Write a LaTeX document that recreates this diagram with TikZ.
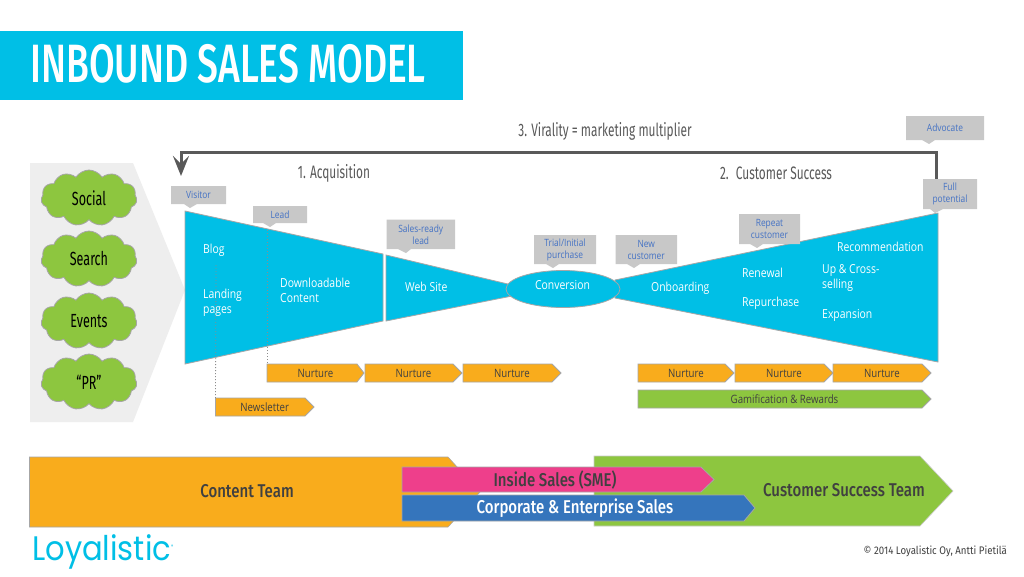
\documentclass[tikz,border=0pt]{standalone}
\usepackage{fontspec}
\usetikzlibrary{shapes.symbols,shapes.geometric,arrows.meta}
\setmainfont{Fira Sans}
\newfontfamily\cond[FakeStretch=0.66]{Fira Sans}
\newfontfamily\condb[FakeStretch=0.81]{Fira Sans Medium}
\newfontfamily\titlef[FakeStretch=0.69]{Fira Sans Medium}
\newfontfamily\body[FakeStretch=0.84]{Open Sans}
\newfontfamily\copyf[FakeStretch=0.88]{Fira Sans}
\newfontfamily\logof[FakeStretch=0.9]{Poppins}
\definecolor{cyanb}{HTML}{00BFE6}
\definecolor{orangeb}{HTML}{F9AC1C}
\definecolor{greenb}{HTML}{8DC63F}
\definecolor{pinkb}{HTML}{EE3F8B}
\definecolor{blueb}{HTML}{3575BC}
\definecolor{greyb}{HTML}{C8C8C8}
\definecolor{bluet}{HTML}{4472C4}
\definecolor{edge}{HTML}{A6A6A6}
\definecolor{darkt}{HTML}{404040}
\definecolor{headt}{HTML}{595959}
\definecolor{panel}{HTML}{EEEEEE}
\tikzset{
  x=1pt,y=-1pt,
  funnel/.style={fill=cyanb,draw=edge,line width=.8pt},
  inner/.style={text=white,align=left,anchor=west,font=\body\fontsize{12.4}{15}\selectfont,inner sep=0pt},
  tag/.style={text=bluet,align=center,font=\body\fontsize{10}{12}\selectfont,inner sep=0pt},
  bubble/.style={cloud,cloud puffs=11,cloud puff arc=115,aspect=1.7,fill=greenb,draw=edge,line width=.8pt,minimum width=96pt,minimum height=56pt,inner sep=0pt,font=\cond\fontsize{19}{20}\selectfont},
  heading/.style={text=headt,inner sep=0pt,font=\cond\fontsize{18}{20}\selectfont},
  small/.style={text=darkt,font=\body\fontsize{11.5}{13}\selectfont,inner sep=0pt},
  team/.style={text=darkt,inner sep=0pt,font=\condb\fontsize{18.5}{20}\selectfont},
  loopline/.style={draw=headt,line width=3pt,-{Stealth[length=20pt,width=16pt,inset=8pt]}},
  dots/.style={draw=black!45,line width=.8pt,dash pattern=on 1pt off 2pt},
}
% name, x0, y0, x1 (body end), y1, tip x, fill, text style, text
\newcommand{\arrowbox}[9]{%
  \draw[fill=#7,draw=edge,line width=.8pt] (#2,#3) -- (#4,#3) -- (#6,{(#3+#5)/2}) -- (#4,#5) -- (#2,#5) -- cycle;
  \coordinate (#1-w) at (#2,#3);
  \node[#8] (#1) at ({(#2+#6)/2},{(#3+#5)/2}) {#9};}
% name, x0, y0, x1, y1, tail left, tail tip x, text
\newcommand{\callout}[8]{%
  \fill[greyb] (#2,#3) -- (#4,#3) -- (#4,#5) -- ({#6+13},#5) -- (#7,{#5+4}) -- (#6,#5) -- (#2,#5) -- cycle;
  \node[tag] (#1) at ({(#2+#4)/2},{(#3+#5)/2}) {#8};}
\begin{document}
\begin{tikzpicture}
\useasboundingbox (0,0) rectangle (1024,576);
\fill[white] (0,0) rectangle (1024,576);
% title
\fill[cyanb] (0,31) rectangle (463,100);
\node[text=white,anchor=west,inner sep=0pt,font=\titlef\fontsize{54}{58}\selectfont] (title) at (30,64) {INBOUND SALES MODEL};
% source panel
\fill[panel] (30,163) -- (133,163) -- (185,290) -- (133,422) -- (30,422) -- cycle;
\node[bubble] (social) at (89,198) {Social};
\node[bubble] (search) at (89,259) {Search};
\node[bubble] (events) at (89,321) {Events};
\node[bubble] (pr) at (89,382) {“PR”};
% loop
\coordinate (loopa) at (936,180);
\coordinate (loopb) at (181,176);
\draw[loopline] (loopa) |- (181,152) -- (loopb);
\node[heading] (virality) at (605,131) {3. Virality = marketing multiplier};
\node[heading] (acq) at (334,173) {1. Acquisition};
\node[heading] (cs) at (776,173) {2.\, Customer Success};
% funnels
\draw[funnel] (185,211) -- (383,254) -- (383,321) -- (185,364) -- cycle;
\draw[funnel] (386,255) -- (512,285) -- (512,296) -- (386,321) -- cycle;
\draw[funnel] (615,280) -- (938,213) -- (938,362) -- (615,298) -- cycle;
\node[ellipse,funnel,minimum width=114pt,minimum height=37pt,inner sep=0pt] (conv) at (563,289) {};
\node[text=white,inner sep=0pt,font=\body\fontsize{12.4}{15}\selectfont] (convt) at (562.5,285.5) {Conversion};
% arrows
\arrowbox{nl}{215.5}{398}{305}{416}{314}{orangeb}{small}{Newsletter}
\arrowbox{n1}{267}{364}{357}{382}{364}{orangeb}{small}{Nurture}
\arrowbox{n2}{365}{364}{453}{382}{462}{orangeb}{small}{Nurture}
\arrowbox{n3}{463}{364}{552}{382}{561}{orangeb}{small}{Nurture}
\arrowbox{n4}{638}{364}{725}{382}{734}{orangeb}{small}{Nurture}
\arrowbox{n5}{735}{364}{824}{382}{833}{orangeb}{small}{Nurture}
\arrowbox{n6}{833}{364}{922}{382}{931}{orangeb}{small}{Nurture}
\arrowbox{gam}{638}{390}{922}{408}{931}{greenb}{small}{Gamification \& Rewards}
% dotted
\coordinate (dota) at (216,265);
\coordinate (dotb) at (267,230);
\draw[dots] (dota) -- (nl-w);
\draw[dots] (dotb) -- (n1-w);
% funnel text
\node[inner] (blog) at (203,250) {Blog};
\node[inner] (landing) at (203,302.5) {Landing\\pages};
\node[inner] (dl) at (280,290) {Downloadable\\Content};
\node[inner] (web) at (405,287) {Web Site};
\node[inner] (onb) at (651,288) {Onboarding};
\node[inner] (ren) at (742,273) {Renewal};
\node[inner] (rep) at (742,303) {Repurchase};
\node[inner] (rec) at (837,247) {Recommendation};
\node[inner] (up) at (822,278) {Up \& Cross-\\selling};
\node[inner] (exp) at (822,315) {Expansion};
% callouts
\callout{c1}{171}{186}{226}{204}{184}{190}{Visitor}
\callout{c2}{253}{206}{307}{223}{263}{270}{Lead}
\callout{c3}{386.5}{219.5}{455}{249}{398}{406}{Sales-ready\\lead}
\callout{c4}{534}{235}{596}{264}{546}{553}{Trial/Initial\\purchase}
\callout{c5}{615.5}{235}{677}{264}{627}{634}{New\\customer}
\callout{c6}{739}{214}{800}{244}{750}{757}{Repeat\\customer}
\callout{c7}{906}{116}{984}{140}{922}{929}{Advocate}
\callout{c8}{923}{179}{977}{209}{930}{935}{Full\\potential}
% teams
\draw[fill=orangeb,draw=edge,line width=.6pt] (29.5,457) -- (448,457) -- (480,492) -- (448,527) -- (29.5,527) -- cycle;
\draw[fill=greenb,draw=edge!60,line width=.6pt] (594,456) -- (920,456) -- (953,491) -- (920,526) -- (594,526) -- cycle;
\arrowbox{is}{402}{467}{701}{492}{714}{pinkb}{team}{}
\arrowbox{ce}{402}{495}{744}{521}{755}{blueb}{team}{}
\node[team] (content) at (247,491) {Content Team};
\node[team] (cst) at (844,490) {Customer Success Team};
\node[team] (ist) at (555,480) {Inside Sales (SME)};
\node[team,text=white] (cet) at (575,508) {Corporate \& Enterprise Sales};
% footer
\node[text=cyanb,anchor=west,inner sep=0pt,font=\logof\fontsize{34}{36}\selectfont] (logo) at (32,552) {Loyalistic\raisebox{12pt}{\fontsize{5}{6}\selectfont ®}};
\node[text=darkt,anchor=east,inner sep=0pt,font=\copyf\fontsize{11}{12}\selectfont] (copy) at (1007,551) {© 2014 Loyalistic Oy, Antti Pietilä};
\end{tikzpicture}
\end{document}
